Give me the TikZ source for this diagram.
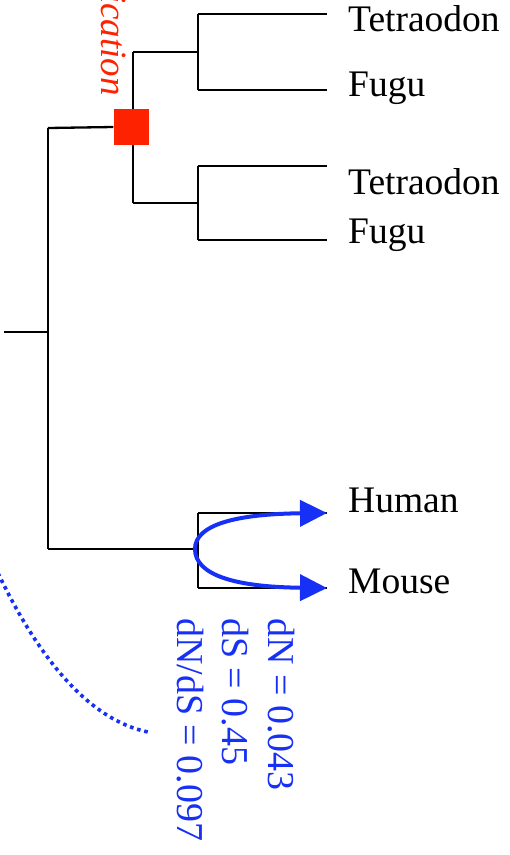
\documentclass[tikz,border=0pt]{standalone}
\usepackage{fontspec}
\setmainfont{Liberation Serif}
\usetikzlibrary{arrows.meta}
\definecolor{dupred}{RGB}{255,34,0}
\definecolor{selblue}{RGB}{22,48,245}
\begin{document}
\begin{tikzpicture}[x=1pt,y=1pt,
  branch/.style={draw=black,line width=2.3pt},
  leaf/.style={anchor=base west,inner sep=0pt,font=\fontsize{37.5}{44}\selectfont},
  stat/.style={anchor=base west,rotate=-90,inner sep=0pt,text=selblue,font=\fontsize{38}{44}\selectfont},
  dupbox/.style={fill=dupred,minimum width=35pt,minimum height=36pt,inner sep=0pt},
  dupname/.style={anchor=base east,rotate=-90,inner sep=0pt,text=dupred,font=\itshape\fontsize{37}{44}\selectfont},
  selarrow/.style={draw=selblue,line width=4pt,-{Triangle[length=27pt,width=26pt]}},
  sellink/.style={draw=selblue,line width=3.6pt,dash pattern=on 3.6pt off 3.8pt}]
\useasboundingbox (0,0) rectangle (510,-855);
\clip (0,0) rectangle (510,-855);
% coordinates
\coordinate (r0) at (4,-332);
\coordinate (r) at (48,-332);
\coordinate (rt) at (48,-128);
\coordinate (rb) at (48,-549);
\coordinate (fA) at (133,-52);
\coordinate (fB) at (133,-203);
\coordinate (pA) at (198,-52);
\coordinate (pA1) at (198,-14);
\coordinate (pA2) at (198,-90);
\coordinate (pB) at (198,-203);
\coordinate (pB1) at (198,-166);
\coordinate (pB2) at (198,-240);
\coordinate (t1) at (327,-14);
\coordinate (f1) at (327,-90);
\coordinate (t2) at (327,-166);
\coordinate (f2) at (327,-240);
\coordinate (m) at (198,-549);
\coordinate (m1) at (198,-513);
\coordinate (m2) at (198,-588);
\coordinate (hu) at (327,-513);
\coordinate (mo) at (327,-588);
\coordinate (sel) at (195,-549);
\coordinate (dotA) at (-2,-573);
\coordinate (dotB) at (148,-732);
% branches
\draw[branch] (r0) -- (r);
\draw[branch] (rt) -- (rb);
\draw[branch] (fA) -- (fB);
\draw[branch] (fA) -- (pA);
\draw[branch] (fB) -- (pB);
\draw[branch] (pA1) -- (pA2);
\draw[branch] (pB1) -- (pB2);
\draw[branch] (pA1) -- (t1);
\draw[branch] (pA2) -- (f1);
\draw[branch] (pB1) -- (t2);
\draw[branch] (pB2) -- (f2);
\draw[branch] (rb) -- (m);
\draw[branch] (m1) -- (m2);
\draw[branch] (m1) -- (hu);
\draw[branch] (m2) -- (mo);
% duplication node
\node[dupbox] (dup) at (131,-127) {};
\draw[branch] (rt) -- (dup.west);
\node[dupname] (dupl) at (101,-96) {Duplication};
% leaf labels
\node[leaf] (lt1) at (348,-31) {Tetraodon};
\node[leaf] (lf1) at (348,-96) {Fugu};
\node[leaf] (lt2) at (348,-194) {Tetraodon};
\node[leaf] (lf2) at (348,-243) {Fugu};
\node[leaf] (lhu) at (348,-512) {Human};
\node[leaf] (lmo) at (348,-593) {Mouse};
% selection arrows
\draw[selarrow] (sel) .. controls (195,-525) and (235,-514) .. (hu);
\draw[selarrow] (sel) .. controls (195,-575) and (235,-587) .. (mo);
% stats
\node[stat] (s1) at (268,-618) {dN = 0.043};
\node[stat] (s2) at (222,-618) {dS = 0.45};
\node[stat] (s3) at (177,-618) {dN/dS = 0.097};
\draw[sellink] (dotA) .. controls (30,-640) and (80,-718) .. (dotB);
\end{tikzpicture}
\end{document}
